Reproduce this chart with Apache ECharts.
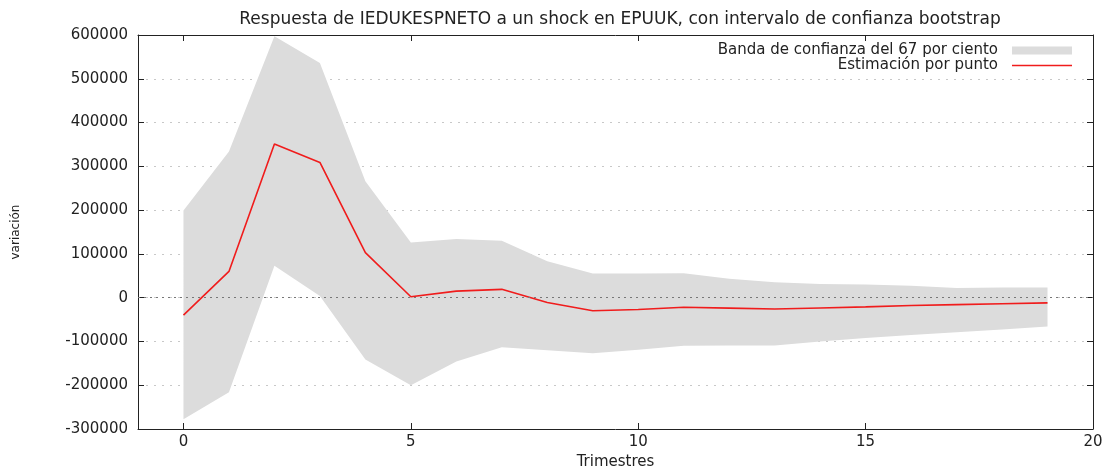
<!DOCTYPE html>
<html>
<head>
<meta charset="utf-8">
<script src="https://cdn.jsdelivr.net/npm/echarts@6/dist/echarts.min.js"></script>
<style>
    html, body { margin: 0; padding: 0; background: #fff; }
    #chart { width: 1113px; height: 469px; }
</style>
</head>
<body>
<div id="chart"></div>
<script>
    const periods = [0, 1, 2, 3, 4, 5, 6, 7, 8, 9, 10, 11, 12, 13, 14, 15, 16, 17, 18, 19]
    const estimate = [-40000, 60000, 351000, 309000, 103000, 2000, 15000, 19000, -11000, -30000,
        -27000, -22000, -24000, -26000, -23500, -21000, -18000, -16000, -14000, -12000]
    const upperBand = [199000, 334000, 597000, 536000, 266000, 126000, 134000, 130000, 83000, 55000,
        55000, 56000, 43000, 35000, 31000, 30000, 27000, 22000, 23000, 23000]
    const lowerBand = [-278000, -216000, 73000, 4000, -141000, -200000, -146000, -113000, -120000, -127000,
        -119000, -110000, -109000, -109000, -100000, -92000, -85000, -79000, -73000, -66000]
    const xTicks = [0, 5, 10, 15, 20]

    const bandName = 'Banda de confianza del 67 por ciento'
    const lineName = 'Estimación por punto'
    const font = 'DejaVu Sans'
    const ink = '#222'
    const bandColor = '#dcdcdc'
    const red = '#f01c1c'

    // thin bar in the middle of a 60x8 box, used as the legend line icon
    const lineIcon = 'path://M0,0 h60 v0.01 h-60 Z M0,3.3 h60 v1.4 h-60 Z M0,7.99 h60 v0.01 h-60 Z'

    const myChart = echarts.init(document.getElementById('chart'))

    function renderBand(params, api) {
        if (params.dataIndex !== 0) return
        const top = periods.map((t, i) => api.coord([t, upperBand[i]]))
        const bottom = periods.map((t, i) => api.coord([t, lowerBand[i]])).reverse()
        return {
            type: 'polygon',
            shape: { points: top.concat(bottom) },
            style: { fill: bandColor, stroke: null }
        }
    }

    const option = {
        animation: false,
        textStyle: { fontFamily: font, color: ink },
        title: {
            text: 'Respuesta de IEDUKESPNETO a un shock en EPUUK, con intervalo de confianza bootstrap',
            left: 615,
            textAlign: 'center',
            top: 6,
            textStyle: { fontSize: 17, fontWeight: 'normal', color: ink, fontFamily: font }
        },
        legend: {
            orient: 'vertical',
            right: 36,
            top: 38,
            align: 'right',
            itemWidth: 60,
            itemHeight: 8,
            itemGap: 0,
            textStyle: { fontSize: 15, lineHeight: 12, color: ink, fontFamily: font, padding: [0, 9, 0, 0] },
            data: [
                { name: bandName, icon: 'rect', itemStyle: { color: bandColor } },
                { name: lineName, icon: lineIcon, itemStyle: { color: red } }
            ]
        },
        grid: { left: 138, right: 20, top: 35, bottom: 40, outerBoundsMode: 'none' },
        xAxis: [
            {
                type: 'value',
                min: -1,
                max: 20,
                name: 'Trimestres',
                nameLocation: 'middle',
                nameGap: 24,
                nameTextStyle: { fontSize: 15, color: ink },
                axisLine: { onZero: false, lineStyle: { color: ink } },
                axisTick: { inside: true, length: 6, customValues: xTicks, lineStyle: { color: ink } },
                axisLabel: { customValues: xTicks, fontSize: 15, color: ink, margin: 6 },
                splitLine: { show: false }
            },
            {
                type: 'value',
                position: 'top',
                min: -1,
                max: 20,
                axisLine: { onZero: false, lineStyle: { color: ink } },
                axisTick: { inside: true, length: 6, customValues: xTicks, lineStyle: { color: ink } },
                axisLabel: { show: false },
                splitLine: { show: false }
            }
        ],
        yAxis: [
            {
                type: 'value',
                min: -300000,
                max: 600000,
                interval: 100000,
                name: 'variación',
                nameLocation: 'middle',
                nameGap: 116,
                nameTextStyle: { fontSize: 12, color: ink },
                axisLine: { show: true, onZero: false, lineStyle: { color: ink } },
                axisTick: { inside: true, length: 6, lineStyle: { color: ink } },
                axisLabel: {
                    fontSize: 15,
                    color: ink,
                    margin: 10,
                    formatter: function (v) { return String(v) }
                },
                splitLine: { show: true, lineStyle: { color: '#c8c8c8', type: [2, 6] } }
            },
            {
                type: 'value',
                position: 'right',
                min: -300000,
                max: 600000,
                interval: 100000,
                axisLine: { show: true, onZero: false, lineStyle: { color: ink } },
                axisTick: { inside: true, length: 6, lineStyle: { color: ink } },
                axisLabel: { show: false },
                splitLine: { show: false }
            }
        ],
        series: [
            {
                name: bandName,
                type: 'custom',
                silent: true,
                itemStyle: { color: bandColor },
                renderItem: renderBand,
                encode: { x: 0, y: [1, 2] },
                data: periods.map((t, i) => [t, lowerBand[i], upperBand[i]]),
                z: 1
            },
            {
                name: lineName,
                type: 'line',
                symbol: 'none',
                itemStyle: { color: red },
                lineStyle: { color: red, width: 1.6 },
                data: periods.map((t, i) => [t, estimate[i]]),
                markLine: {
                    silent: true,
                    symbol: 'none',
                    label: { show: false },
                    lineStyle: { color: '#777', type: [2, 4], width: 1 },
                    data: [{ yAxis: 0 }]
                },
                z: 3
            }
        ]
    }

    myChart.setOption(option)
</script>
</body>
</html>
